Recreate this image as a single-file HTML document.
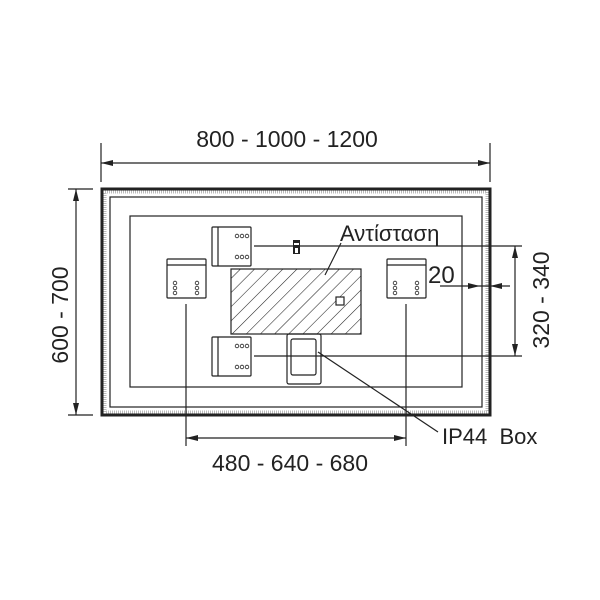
<!DOCTYPE html>
<html><head><style>body{margin:0;background:#fff}svg{display:block}text{font-family:"Liberation Sans",sans-serif;fill:#222}</style></head><body>
<svg width="600" height="600" viewBox="0 0 600 600" xmlns="http://www.w3.org/2000/svg">
<defs>
<pattern id="h" width="10" height="10" patternUnits="userSpaceOnUse" patternTransform="rotate(45)"><line x1="0" y1="0" x2="0" y2="10" stroke="#222" stroke-width="1.1"/></pattern>
</defs>
<g stroke="#222" fill="none" stroke-width="1.2">
<rect x="102" y="189" width="388" height="226" stroke-width="3"/>
<rect x="105" y="192" width="382" height="220" stroke="#bbb" stroke-width="3" stroke-dasharray="1 1"/>
<rect x="110" y="197" width="372" height="210"/>
<rect x="130" y="216" width="332" height="171"/>
<rect x="231" y="269" width="130" height="65" fill="url(#h)"/>
<rect x="336" y="297" width="8" height="8" fill="#fff"/>
<rect x="212" y="227" width="39" height="39" rx="1"/>
<line x1="218" y1="227" x2="218" y2="266"/>
<rect x="212" y="337" width="39" height="39" rx="1"/>
<line x1="218" y1="337" x2="218" y2="376"/>
<rect x="167" y="259" width="39" height="39" rx="1"/>
<line x1="167" y1="265" x2="206" y2="265"/>
<rect x="387" y="259" width="39" height="39" rx="1"/>
<line x1="387" y1="265" x2="426" y2="265"/>
<rect x="287" y="334" width="34" height="50" rx="2"/>
<rect x="291" y="339" width="25" height="36" rx="2"/>
<line x1="254" y1="246" x2="522" y2="246"/>
<line x1="254" y1="356" x2="522" y2="356"/>
<line x1="186" y1="304" x2="186" y2="446"/>
<line x1="406" y1="304" x2="406" y2="446"/>
<line x1="101" y1="143" x2="101" y2="182"/>
<line x1="490" y1="143" x2="490" y2="182"/>
<line x1="101" y1="163" x2="490" y2="163"/>
<line x1="68" y1="189" x2="93" y2="189"/>
<line x1="68" y1="415" x2="93" y2="415"/>
<line x1="76" y1="189" x2="76" y2="415"/>
<line x1="186" y1="438" x2="406" y2="438"/>
<line x1="515" y1="246" x2="515" y2="356"/>
<line x1="440" y1="286" x2="510" y2="286"/>
<line x1="341" y1="243" x2="325" y2="275"/>
<line x1="318" y1="352" x2="438" y2="432"/>
</g>
<g fill="#222">
<path d="M101,163 l12,-3 v6z M490,163 l-12,-3 v6z"/>
<path d="M76,189 l-3,12 h6z M76,415 l-3,-12 h6z"/>
<path d="M186,438 l12,-3 v6z M406,438 l-12,-3 v6z"/>
<path d="M515,246 l-3,12 h6z M515,356 l-3,-12 h6z"/>
<path d="M480,286 l-12,-3 v6z M490,286 l12,-3 v6z"/>
<rect x="293" y="240" width="7" height="14"/>
<rect x="294" y="243" width="5" height="2" fill="#fff"/>
<rect x="295" y="248" width="3" height="5" fill="#fff"/>
</g>
<g fill="none" stroke="#222" stroke-width="0.8">
<circle cx="237" cy="236" r="1.8"/><circle cx="242" cy="236" r="1.8"/><circle cx="247" cy="236" r="1.8"/>
<circle cx="237" cy="257" r="1.8"/><circle cx="242" cy="257" r="1.8"/><circle cx="247" cy="257" r="1.8"/>
<circle cx="237" cy="346" r="1.8"/><circle cx="242" cy="346" r="1.8"/><circle cx="247" cy="346" r="1.8"/>
<circle cx="237" cy="367" r="1.8"/><circle cx="242" cy="367" r="1.8"/><circle cx="247" cy="367" r="1.8"/>
<circle cx="175" cy="283" r="1.8"/><circle cx="175" cy="288" r="1.8"/><circle cx="175" cy="293" r="1.8"/>
<circle cx="197" cy="283" r="1.8"/><circle cx="197" cy="288" r="1.8"/><circle cx="197" cy="293" r="1.8"/>
<circle cx="395" cy="283" r="1.8"/><circle cx="395" cy="288" r="1.8"/><circle cx="395" cy="293" r="1.8"/>
<circle cx="417" cy="283" r="1.8"/><circle cx="417" cy="288" r="1.8"/><circle cx="417" cy="293" r="1.8"/>
</g>
<text x="287" y="147" font-size="23" text-anchor="middle">800 - 1000 - 1200</text>
<text x="0" y="0" font-size="23" text-anchor="middle" transform="translate(68,315) rotate(-90)">600 - 700</text>
<text x="0" y="0" font-size="23" text-anchor="middle" transform="translate(549,300) rotate(-90)">320 - 340</text>
<text x="290" y="471" font-size="23" text-anchor="middle">480 - 640 - 680</text>
<text x="340" y="241" font-size="22">Αντίσταση</text>
<text x="428" y="283" font-size="24">20</text>
<text x="442" y="444" font-size="22" xml:space="preserve">IP44  Box</text>
</svg>
</body></html>
